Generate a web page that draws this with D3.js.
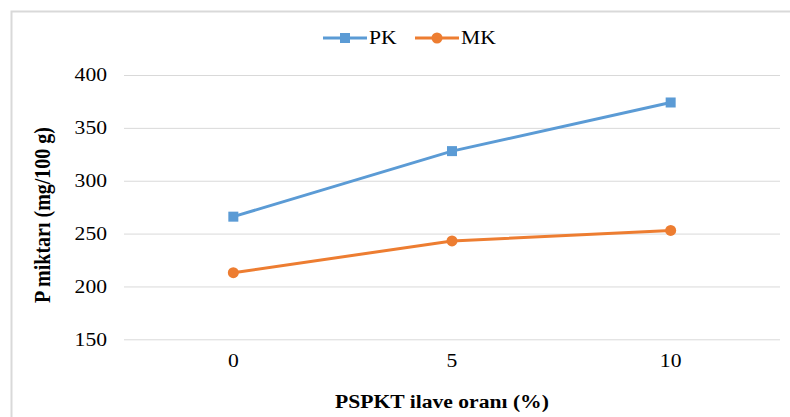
<!DOCTYPE html>
<html>
<head>
<meta charset="utf-8">
<script src="https://cdn.jsdelivr.net/npm/d3@7"></script>
<style>
  body { margin: 0; background: #fff; }
</style>
</head>
<body>
<div id="chart"></div>
<script>
// values
const categories = ["0", "5", "10"];
const pkValues = [266, 328, 374];
const mkValues = [213, 243, 253];
const yTicks = [150, 200, 250, 300, 350, 400];

const series = [
  { name: "PK", values: pkValues, color: "#5b9bd5", marker: "square" },
  { name: "MK", values: mkValues, color: "#ed7d31", marker: "circle" }
];

const FONT = '"Liberation Serif", "Times New Roman", serif';
const STRETCH = 1.2; // the source picture is a bit wide
const width = 790, height = 417;
const plot = { left: 124, right: 780, top: 75, bottom: 339.3 };

const svg = d3.select("#chart").append("svg")
  .attr("width", width)
  .attr("height", height);

// widen horizontal text like in the source
function widen(sel) {
  sel.each(function() {
    const len = this.getComputedTextLength();
    d3.select(this)
      .attr("textLength", len * STRETCH)
      .attr("lengthAdjust", "spacingAndGlyphs");
  });
}

// chart frame (only top and left edge show in the crop)
svg.append("path")
  .attr("d", `M11.5,${height} V11.5 H${width}`)
  .attr("fill", "none")
  .attr("stroke", "#d9d9d9")
  .attr("stroke-width", 2);

const x = d3.scaleBand()
  .domain(categories)
  .range([plot.left, plot.right])
  .padding(0);

const y = d3.scaleLinear()
  .domain([150, 400])
  .range([plot.bottom, plot.top]);

// gridlines + y labels
const yAxis = d3.axisLeft(y)
  .tickValues(yTicks)
  .tickSize(-(plot.right - plot.left))
  .tickPadding(17);

const gy = svg.append("g")
  .attr("transform", `translate(${plot.left},0)`)
  .call(yAxis);
gy.select(".domain").remove();
gy.selectAll(".tick line").attr("stroke", "#d9d9d9").attr("stroke-width", 1);
gy.selectAll(".tick text")
  .style("font-family", FONT)
  .style("font-size", "18px")
  .attr("fill", "#000")
  .call(widen);

// x labels
const xAxis = d3.axisBottom(x).tickSize(0).tickPadding(15);
const gx = svg.append("g")
  .attr("transform", `translate(0,${plot.bottom})`)
  .call(xAxis);
gx.select(".domain").remove();
gx.selectAll(".tick text")
  .style("font-family", FONT)
  .style("font-size", "18px")
  .attr("fill", "#000")
  .call(widen);

const cx = c => x(c) + x.bandwidth() / 2;

const line = d3.line()
  .x((d, i) => cx(categories[i]))
  .y(d => y(d));

series.forEach(s => {
  svg.append("path")
    .datum(s.values)
    .attr("fill", "none")
    .attr("stroke", s.color)
    .attr("stroke-width", 3)
    .attr("stroke-linejoin", "round")
    .attr("d", line);

  const pts = svg.append("g");
  if (s.marker === "square") {
    pts.selectAll("rect")
      .data(s.values)
      .join("rect")
        .attr("x", (d, i) => cx(categories[i]) - 5)
        .attr("y", d => y(d) - 5)
        .attr("width", 10)
        .attr("height", 10)
        .attr("fill", s.color);
  } else {
    pts.selectAll("circle")
      .data(s.values)
      .join("circle")
        .attr("cx", (d, i) => cx(categories[i]))
        .attr("cy", d => y(d))
        .attr("r", 5.5)
        .attr("fill", s.color);
  }
});

// legend
const legendX = [323, 415];
const legendY = 38;
series.forEach((s, i) => {
  const g = svg.append("g").attr("transform", `translate(${legendX[i]},${legendY})`);
  g.append("line")
    .attr("x1", 0).attr("x2", 44)
    .attr("stroke", s.color)
    .attr("stroke-width", 3);
  if (s.marker === "square") {
    g.append("rect").attr("x", 17).attr("y", -5).attr("width", 10).attr("height", 10).attr("fill", s.color);
  } else {
    g.append("circle").attr("cx", 22).attr("r", 5.5).attr("fill", s.color);
  }
  g.append("text")
    .attr("x", 46)
    .attr("y", 6)
    .style("font-family", FONT)
    .style("font-size", "18px")
    .text(s.name)
    .call(widen);
});

// axis titles
svg.append("text")
  .attr("transform", `translate(50,215) rotate(-90) scale(1,${STRETCH})`)
  .attr("text-anchor", "middle")
  .style("font-family", FONT)
  .style("font-size", "20px")
  .style("font-weight", "bold")
  .text("P miktarı (mg/100 g)");

svg.append("text")
  .attr("x", 442)
  .attr("y", 408)
  .attr("text-anchor", "middle")
  .style("font-family", FONT)
  .style("font-size", "18px")
  .style("font-weight", "bold")
  .text("PSPKT ilave oranı (%)")
  .call(widen);
</script>
</body>
</html>
